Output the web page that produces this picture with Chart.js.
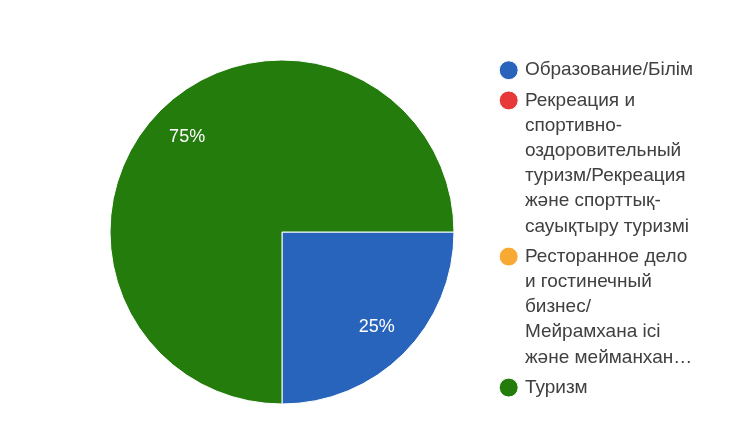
<!DOCTYPE html>
<html>
<head>
<meta charset="utf-8">
<script src="https://cdn.jsdelivr.net/npm/chart.js@4"></script>
<style>
  html, body { margin: 0; padding: 0; background: #fff; }
  #wrap { width: 742px; height: 426px; }
</style>
</head>
<body>
<div id="wrap"><canvas id="pie"></canvas></div>
<script>
var labels = [
  ['Образование/Білім'],
  ['Рекреация и', 'спортивно-', 'оздоровительный', 'туризм/Рекреация', 'және спорттық-', 'сауықтыру туризмі'],
  ['Ресторанное дело', 'и гостинечный', 'бизнес/', 'Мейрамхана ісі', 'және мейманхан…'],
  ['Туризм']
];
var values = [25, 0, 0, 75];
var colors = ['#2864bb', '#e8393a', '#f8a933', '#237c0c'];

// percentage text inside each slice
var pctLabels = {
  id: 'pctLabels',
  afterDatasetsDraw(chart) {
    var ctx = chart.ctx;
    var meta = chart.getDatasetMeta(0);
    var total = values.reduce((a, b) => a + b, 0);
    ctx.save();
    ctx.fillStyle = '#ffffff';
    ctx.font = '18px "Liberation Sans", Arial, sans-serif';
    ctx.textAlign = 'center';
    ctx.textBaseline = 'middle';
    meta.data.forEach((arc, i) => {
      if (!values[i]) return;
      var mid = (arc.startAngle + arc.endAngle) / 2;
      var r = arc.outerRadius * 0.78;
      var pct = Math.round(values[i] / total * 100) + '%';
      ctx.fillText(pct, arc.x + Math.cos(mid) * r, arc.y + Math.sin(mid) * r);
    });
    ctx.restore();
  }
};

new Chart(document.getElementById('pie'), {
  type: 'pie',
  data: {
    labels: labels,
    datasets: [{
      data: values,
      backgroundColor: colors,
      borderColor: '#ffffff',
      borderWidth: 1,
      radius: 172
    }]
  },
  options: {
    responsive: true,
    maintainAspectRatio: false,
    animation: false,
    rotation: 90,
    layout: {
      padding: { left: 67, top: 38, bottom: 0, right: 39 }
    },
    plugins: {
      tooltip: { enabled: false },
      legend: {
        position: 'right',
        align: 'center',
        labels: {
          usePointStyle: true,
          pointStyle: 'circle',
          boxWidth: 13.4,
          boxHeight: 13.4,
          padding: 5,
          color: '#404040',
          font: { family: '"Liberation Sans", Arial, sans-serif', size: 19, lineHeight: 1.326 }
        }
      }
    }
  },
  plugins: [pctLabels]
});
</script>
</body>
</html>
